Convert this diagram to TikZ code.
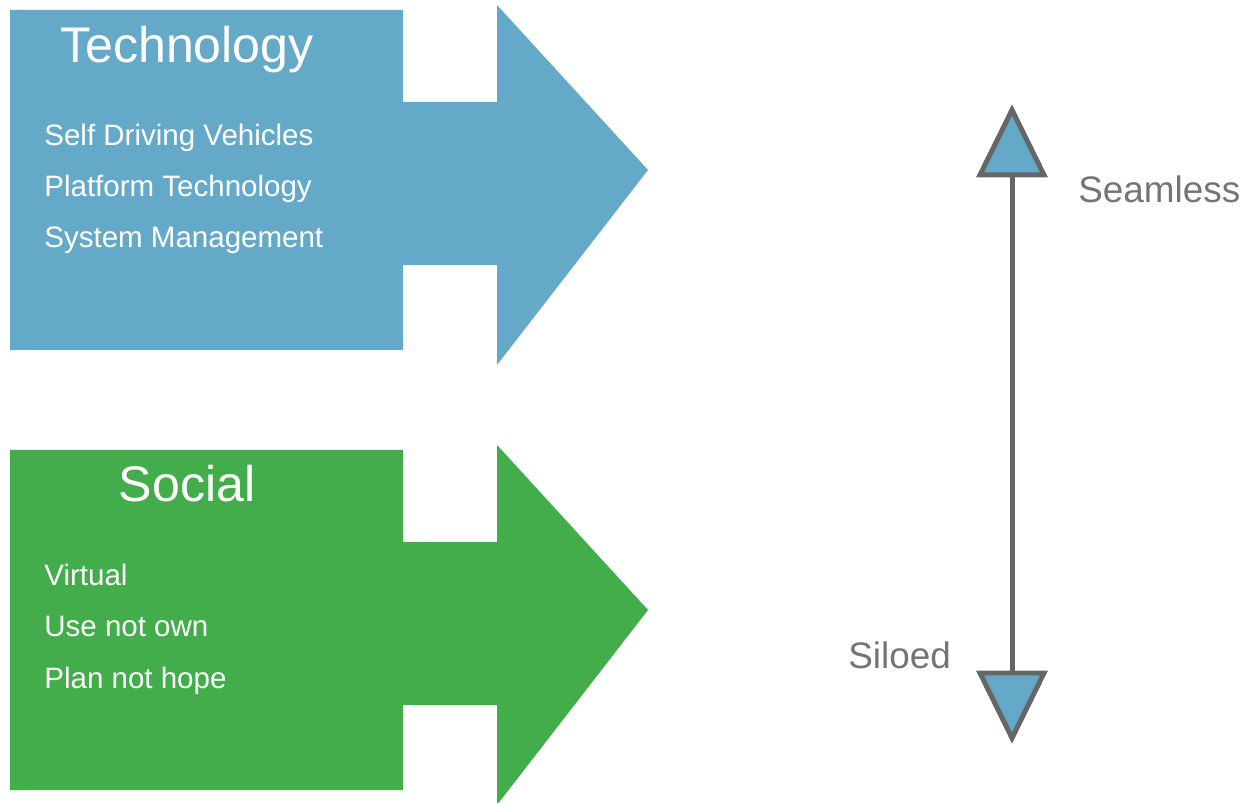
\documentclass[tikz,border=0pt]{standalone}
\usepackage{fontspec}
\setmainfont{Liberation Sans}
\usepackage{tikz}
\usetikzlibrary{positioning}
\definecolor{techblue}{HTML}{64AAC8}
\definecolor{socgreen}{HTML}{42AD4A}
\definecolor{linegray}{HTML}{666666}
\definecolor{labgray}{HTML}{747474}
\tikzset{
  title/.style={text=white, font=\fontsize{28.5}{30}\selectfont, anchor=base},
  item/.style={text=white, font=\fontsize{16.8}{18}\selectfont, anchor=base west, inner sep=0pt},
  scale label/.style={text=labgray, font=\fontsize{21}{24}\selectfont, anchor=base west, inner sep=0pt},
  tip/.style={fill=techblue, draw=linegray, line width=0.1cm, line join=miter}
}
\begin{document}
\begin{tikzpicture}[x=0.02cm, y=-0.02cm]
\useasboundingbox (0,0) rectangle (1248,803);

% big block arrows, \y = top edge
\foreach \y/\col in {10/techblue, 450/socgreen}
{
    \fill[\col] (10,\y) -- (403,\y) -- (403,\y+92) -- (497,\y+92) -- (497,\y-5)
        -- (648,\y+160) -- (497,\y+355) -- (497,\y+255) -- (403,\y+255)
        -- (403,\y+340) -- (10,\y+340) -- cycle;
}

\node[title] (tech) at (187,63) {Technology};
\foreach \t [count=\i] in {Self Driving Vehicles, Platform Technology, System Management}
    \node[item] (tech\i) at (44,95+\i*51) {\t};

\node[title] (soc) at (187,502) {Social};
\foreach \t [count=\i] in {Virtual, Use not own, Plan not hope}
    \node[item] (soc\i) at (44,535+\i*51) {\t};

% seamless / siloed scale
\coordinate (up) at (1012,175);
\coordinate (dn) at (1012,673);
\draw[linegray, line width=0.1cm] (up) -- (dn);
\draw[tip] (up) -- ++(-32,0) -- ++(32,-65) -- ++(32,65) -- cycle;
\draw[tip] (dn) -- ++(-32,0) -- ++(32,65) -- ++(32,-65) -- cycle;

\node[scale label] (seam) at (1078,203) {Seamless};
\node[scale label] (silo) at (848,668) {Siloed};
\end{tikzpicture}
\end{document}
